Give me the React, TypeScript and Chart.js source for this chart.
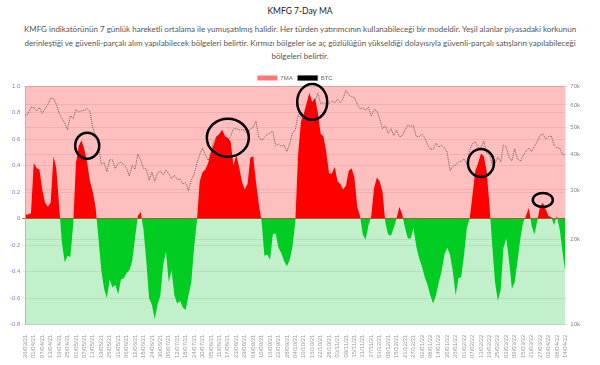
import React, { useEffect, useRef } from "react";
import { Chart, registerables } from "chart.js";

Chart.register(...registerables);

// ---- DATA ----
const START_DATE = "2021-03-26";
const POINT_COUNT = 193; // every 2nd day, 26/03/21 .. 14/04/22
const LABEL_EVERY = 3; // tick label every 6 days

// KMFG 7-day moving average (every 2nd day)
const kmfg7MA = [
  0.03, 0.03, 0.04, 0.42, 0.38, 0.37, 0.22, 0.12, 0.09, 0.12,
  0.47, 0.38, 0.10, -0.18, -0.33, -0.28, -0.29, -0.05, 0.42, 0.55,
  0.59, 0.52, 0.42, 0.28, 0.20, 0.08, -0.15, -0.39, -0.53, -0.60,
  -0.46, -0.52, -0.50, -0.57, -0.46, -0.45, -0.41, -0.39, -0.32, -0.15,
  0.02, 0.05, -0.08, -0.32, -0.60, -0.65, -0.76, -0.65, -0.58, -0.35,
  -0.25, -0.48, -0.39, -0.58, -0.64, -0.62, -0.67, -0.69, -0.58, -0.48,
  -0.22, -0.02, 0.28, 0.35, 0.37, 0.42, 0.50, 0.56, 0.62, 0.64,
  0.67, 0.62, 0.61, 0.58, 0.40, 0.48, 0.39, 0.28, 0.22, 0.26,
  0.46, 0.47, 0.28, 0.11, -0.02, -0.28, -0.27, -0.31, -0.12, -0.11,
  -0.22, -0.26, -0.32, -0.36, -0.31, -0.21, -0.02, 0.49, 0.73, 0.79,
  0.87, 0.95, 0.88, 0.91, 0.80, 0.64, 0.62, 0.50, 0.34, 0.34,
  0.39, 0.28, 0.26, 0.22, 0.25, 0.36, 0.38, 0.31, 0.09, 0.02,
  -0.12, -0.16, -0.05, 0.02, 0.23, 0.31, 0.28, 0.20, -0.03, -0.12,
  -0.13, -0.07, 0.00, 0.09, 0.03, -0.07, -0.15, -0.15, -0.07, -0.21,
  -0.30, -0.36, -0.44, -0.50, -0.58, -0.64, -0.58, -0.48, -0.40, -0.27,
  -0.22, -0.27, -0.40, -0.58, -0.45, -0.44, -0.27, -0.07, 0.00, 0.18,
  0.36, 0.42, 0.49, 0.47, 0.36, 0.11, -0.20, -0.48, -0.62, -0.54,
  -0.22, -0.15, -0.32, -0.53, -0.48, -0.32, -0.15, -0.03, 0.02, 0.08,
  -0.05, -0.12, -0.02, 0.09, 0.12, 0.07, 0.02, 0.01, -0.05, 0.02,
  -0.08, -0.25, -0.41,
];

// BTC price in USD (every 2nd day)
const btcPrice = [
  55100, 55800, 58800, 58700, 57100, 58700, 56000, 58100, 60200, 63500,
  63200, 60400, 56200, 53800, 51700, 49000, 55000, 53600, 57800, 56600,
  57200, 57400, 58200, 56700, 49700, 46800, 43500, 37000, 37500, 34800,
  38400, 38300, 35700, 37300, 37600, 36900, 35800, 33600, 36700, 35500,
  40200, 38300, 35800, 35600, 32500, 34700, 32200, 34400, 35000, 33900,
  35300, 34200, 32900, 33800, 32700, 32800, 31500, 31800, 29800, 32500,
  34000, 37300, 40000, 42200, 39900, 38200, 40900, 44600, 46400, 45600,
  47800, 47000, 44800, 46700, 49300, 49500, 48900, 49000, 48800, 47200,
  49300, 50000, 52600, 46100, 44900, 46100, 47100, 47800, 48300, 43000,
  43600, 42800, 43200, 41000, 43800, 47700, 49100, 55400, 53800, 54700,
  56000, 57400, 60900, 62000, 66000, 60700, 61100, 60400, 60600, 62000,
  61000, 62900, 61100, 63300, 67600, 64900, 64200, 63600, 60400, 58100,
  58700, 57300, 58900, 54700, 57800, 57200, 53600, 49400, 50600, 47600,
  49400, 46700, 48900, 46200, 46700, 48900, 50800, 50400, 50600, 46400,
  46300, 47300, 45900, 43500, 41800, 41800, 43900, 42600, 43100, 42300,
  40700, 35100, 36300, 36800, 37700, 37900, 38700, 37000, 41400, 43800,
  44400, 42400, 42200, 44600, 40500, 40100, 37000, 37300, 39200, 37700,
  43200, 42500, 39100, 38000, 41900, 38700, 37800, 39700, 41100, 42200,
  41000, 42900, 44300, 46800, 47400, 45500, 46300, 46600, 43200, 42300,
  42200, 40100, 39900,
];

// Right (BTC, log) axis ticks
const btcTicks = [10000, 20000, 30000, 40000, 50000, 60000, 70000];

// Highlight circles drawn on the chart (date label, 7MA value, radii in px)
const circleDates = ["09/05/21", "17/08/21", "16/10/21", "13/02/22", "29/03/22"];
const circleValues = [0.55, 0.61, 0.88, 0.42, 0.14];
const circleRadiusX = [12, 21, 15, 13, 10];
const circleRadiusY = [13, 19, 18, 14, 7];

const TITLE = "KMFG 7-Day MA";
const DESCRIPTION_LINES = [
  "KMFG indikatörünün 7 günlük hareketli ortalama ile yumuşatılmış halidir. Her türden yatırımcının kullanabileceği bir modeldir. Yeşil alanlar piyasadaki korkunun",
  "derinleştiği ve güvenli-parçalı alım yapılabilecek bölgeleri belirtir. Kırmızı bölgeler ise aç gözlülüğün yükseldiği dolayısıyla güvenli-parçalı satışların yapılabileceği",
  "bölgeleri belirtir.",
];

function buildDateLabels(): string[] {
  const out: string[] = [];
  const d = new Date(START_DATE + "T00:00:00Z");
  for (let i = 0; i < POINT_COUNT; i++) {
    const dd = String(d.getUTCDate()).padStart(2, "0");
    const mm = String(d.getUTCMonth() + 1).padStart(2, "0");
    const yy = String(d.getUTCFullYear()).slice(2);
    out.push(`${dd}/${mm}/${yy}`);
    d.setUTCDate(d.getUTCDate() + 2);
  }
  return out;
}
const dateLabels = buildDateLabels();

const zoneBackground = {
  id: "zoneBackground",
  beforeDraw(chart: any) {
    const { ctx, chartArea, scales } = chart;
    if (!chartArea) return;
    const y0 = scales.y.getPixelForValue(0);
    ctx.save();
    ctx.fillStyle = "rgb(255,191,191)";
    ctx.fillRect(chartArea.left, chartArea.top, chartArea.right - chartArea.left, y0 - chartArea.top);
    ctx.fillStyle = "rgb(193,240,202)";
    ctx.fillRect(chartArea.left, y0, chartArea.right - chartArea.left, chartArea.bottom - y0);
    ctx.restore();
  },
};

const LEGEND_TRIM = 5;
const legendTighten = {
  id: "legendTighten",
  beforeUpdate(chart: any) {
    const lg = chart.legend;
    if (lg && !lg.__tight) {
      const orig = lg.fit.bind(lg);
      lg.fit = function () {
        orig();
        this.height = Math.max(0, this.height - LEGEND_TRIM);
      };
      lg.__tight = true;
    }
  },
};

const circleMarks = {
  id: "circleMarks",
  afterDatasetsDraw(chart: any) {
    const { ctx, scales } = chart;
    ctx.save();
    ctx.strokeStyle = "#000";
    ctx.lineWidth = 2.5;
    circleDates.forEach((lab, i) => {
      const idx = dateLabels.indexOf(lab);
      const cx = scales.x.getPixelForValue(idx);
      const cy = scales.y.getPixelForValue(circleValues[i]);
      ctx.beginPath();
      ctx.ellipse(cx, cy, circleRadiusX[i], circleRadiusY[i], 0, 0, Math.PI * 2);
      ctx.stroke();
    });
    ctx.restore();
  },
};

export default function App() {
  const canvasRef = useRef<HTMLCanvasElement | null>(null);

  useEffect(() => {
    document.body.style.margin = "0";
    const canvas = canvasRef.current;
    if (!canvas) return;
    Chart.defaults.font.family = "'Liberation Sans', Arial, sans-serif";
    const chart = new Chart(canvas, {
      type: "line",
      data: {
        labels: dateLabels,
        datasets: [
          {
            label: "7MA",
            data: kmfg7MA,
            yAxisID: "y",
            borderWidth: 0,
            borderColor: "rgba(255,0,0,0)",
            backgroundColor: "rgb(255,120,120)",
            pointRadius: 0,
            tension: 0,
            fill: { target: "origin", above: "rgb(255,0,0)", below: "rgb(0,204,34)" },
          },
          {
            label: "BTC",
            data: btcPrice,
            yAxisID: "y1",
            borderWidth: 1,
            borderColor: "rgba(60,60,60,0.75)",
            backgroundColor: "#000",
            borderDash: [1, 1],
            pointRadius: 0,
            tension: 0,
            fill: false,
          },
        ],
      },
      options: {
        animation: false,
        responsive: true,
        maintainAspectRatio: false,
        layout: { padding: { right: 10, bottom: 0 } },
        plugins: {
          filler: { drawTime: "beforeDatasetsDraw" },
          legend: {
            labels: {
              boxWidth: 20,
              boxHeight: 5,
              padding: 5,
              color: "#666",
              font: { size: 6 },
            },
          },
          tooltip: { enabled: false },
        },
        scales: {
          x: {
            grid: { display: false },
            border: { display: false },
            ticks: {
              autoSkip: false,
              minRotation: 90,
              maxRotation: 90,
              padding: 2,
              color: "#999",
              font: { size: 6 },
              callback: function (this: any, v: any, i: number) {
                return i % LABEL_EVERY === 0 ? this.getLabelForValue(v) : null;
              },
            },
          },
          y: {
            position: "left",
            min: -0.8,
            max: 1.0,
            ticks: { stepSize: 0.2, color: "#9370f0", font: { size: 6 }, padding: 2 },
            grid: {
              tickLength: 3,
              color: (c: any) => (c.tick && c.tick.value === 0 ? "rgba(200,60,40,0.9)" : "rgba(0,0,0,0.07)"),
            },
            border: { color: "rgba(0,0,0,0.2)" },
          },
          y1: {
            type: "logarithmic",
            position: "right",
            min: 10000,
            max: 70000,
            afterBuildTicks: (scale: any) => {
              scale.ticks = btcTicks.map((v) => ({ value: v }));
            },
            ticks: {
              color: "#888",
              font: { size: 6 },
              padding: 2,
              callback: (v: any) => Number(v) / 1000 + "k",
            },
            grid: { tickLength: 3, color: "rgba(0,0,0,0.07)" },
            border: { display: false },
          },
        },
      },
      plugins: [zoneBackground, legendTighten, circleMarks],
    } as any);
    return () => chart.destroy();
  }, []);

  return (
    <div style={{ position: "relative", width: 600, height: 365, background: "#fff", overflow: "hidden" }}>
      <div
        style={{
          position: "absolute",
          top: 5,
          left: 0,
          width: 600,
          textAlign: "center",
          fontFamily: "Lato, 'Open Sans', sans-serif",
          fontSize: 8.5,
          lineHeight: "12px",
          color: "#222",
        }}
      >
        {TITLE}
      </div>
      <div
        style={{
          position: "absolute",
          top: 23,
          left: 0,
          width: 600,
          textAlign: "center",
          fontFamily: "Lato, 'Open Sans', sans-serif",
          fontSize: 8,
          lineHeight: "13.5px",
          color: "#555",
        }}
      >
        {DESCRIPTION_LINES.map((l, i) => (
          <div key={i} style={{ whiteSpace: "nowrap" }}>{l}</div>
        ))}
      </div>
      <div style={{ position: "absolute", left: 8, top: 70, width: 584, height: 290 }}>
        <canvas ref={canvasRef} />
      </div>
    </div>
  );
}
